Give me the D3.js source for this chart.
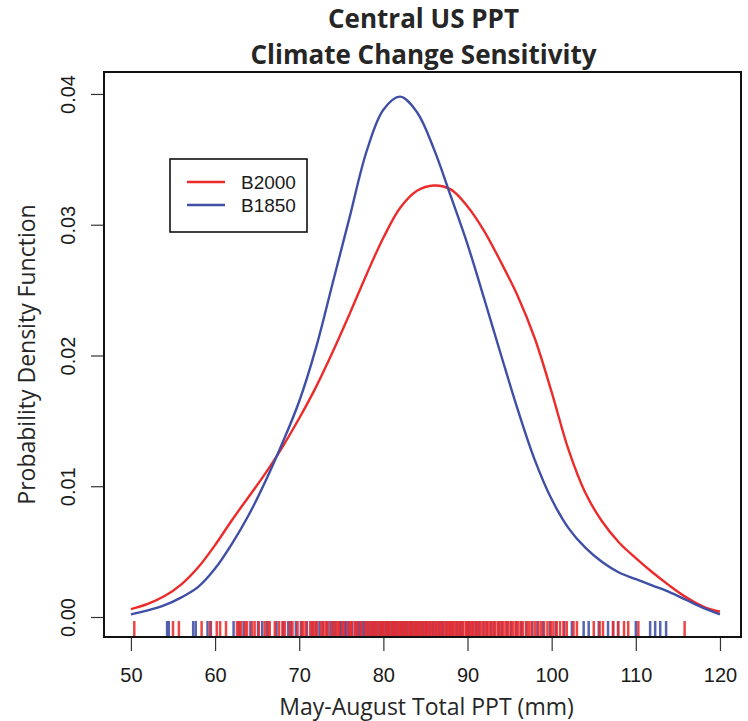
<!DOCTYPE html>
<html>
<head>
<meta charset="utf-8">
<script src="https://cdn.jsdelivr.net/npm/d3@7"></script>
<style>
  body { margin: 0; background: #fff; }
  svg { display: block; }
</style>
</head>
<body>
<div id="chart"></div>
<script>
// =========================
// DATA
// =========================
const pptGrid = [50, 52, 54, 56, 58, 60, 62, 64, 66, 68, 70, 72, 74, 76, 78, 80, 82, 84,
    86, 88, 90, 92, 94, 96, 98, 100, 102, 104, 106, 108, 110, 112, 114, 116, 118, 120];

const densB2000 = [0.0006, 0.0010, 0.0016, 0.0025, 0.0038, 0.0055, 0.0074, 0.0092, 0.0110,
    0.0130, 0.0152, 0.0176, 0.0203, 0.0232, 0.0262, 0.0290, 0.0313, 0.0326, 0.0330, 0.0327,
    0.0314, 0.0295, 0.0271, 0.0245, 0.0213, 0.0172, 0.0128, 0.0095, 0.0073, 0.0057, 0.0045,
    0.0034, 0.0024, 0.0015, 0.0008, 0.0004];

const densB1850 = [0.0002, 0.0005, 0.0009, 0.0015, 0.0023, 0.0037, 0.0056, 0.0078, 0.0104,
    0.0133, 0.0165, 0.0206, 0.0256, 0.0306, 0.0356, 0.0388, 0.0398, 0.0386, 0.0358, 0.0322,
    0.0285, 0.0243, 0.0200, 0.0158, 0.0120, 0.0090, 0.0068, 0.0053, 0.0042, 0.0034, 0.0029,
    0.0024, 0.0019, 0.0013, 0.0007, 0.0002];

const rugB2000 = [50.4, 55.0, 55.7, 58.4, 59.4, 60.2, 60.6, 61.3,
    62.6, 62.9, 63.1, 63.6, 63.8, 64.4, 64.7, 65.2, 65.9, 66.3, 66.5, 67.1, 67.6, 68.0, 68.3,
    68.9, 69.2, 69.8, 70.3, 70.5, 70.8, 71.3, 71.6, 71.8, 72.1, 72.6, 72.9, 73.2, 73.4, 73.9,
    74.2, 74.5, 74.7, 75.1, 75.3, 75.8, 76.1, 76.2, 76.6, 76.9, 77.3, 77.4, 77.9, 78.1, 78.4,
    78.6, 78.9, 79.1, 79.4, 79.7, 79.9, 80.1, 80.4, 80.6, 80.8, 81.1, 81.3, 81.5, 81.8, 82.0,
    82.2, 82.5, 82.7, 83.0, 83.2, 83.4, 83.7, 83.9, 84.1, 84.4, 84.6, 84.9, 85.1, 85.3, 85.6,
    85.8, 86.1, 86.3, 86.5, 86.8, 87.0, 87.3, 87.6, 87.8, 88.0, 88.3, 88.5, 88.8, 89.0, 89.3,
    89.5, 89.8, 90.0, 90.3, 90.5, 90.8, 91.1, 91.3, 91.6, 91.9, 92.2, 92.4, 92.7, 93.0, 93.3,
    93.6, 93.9, 94.2, 94.5, 94.8, 95.1, 95.4, 95.7, 96.0, 96.3, 96.6, 97.0, 97.3, 97.6, 98.0,
    98.4, 98.7, 99.1, 99.5, 99.9, 100.2, 100.6, 101.0, 101.4, 101.8,
    102.6, 103.0, 105.0, 105.7, 106.1, 107.3, 107.9, 108.6, 109.1, 110.3, 115.8];

const rugB1850 = [54.3, 54.5, 57.4, 57.7, 59.1, 59.5,
    62.2, 62.8, 63.4, 64.2, 65.1, 65.6, 66.2, 67.3, 68.1, 68.7, 69.0, 69.6, 70.2, 70.9, 71.5,
    72.0, 72.4, 72.8, 73.3, 73.7, 74.0, 74.3, 74.8, 75.0, 75.4, 75.6, 75.9, 76.3, 76.7, 77.0,
    77.2, 77.6, 77.8, 78.2, 78.5, 78.8, 79.0, 79.3, 79.6, 79.8, 80.0, 80.3, 80.5, 80.7, 81.0,
    81.2, 81.4, 81.6, 81.9, 82.1, 82.3, 82.6, 82.8, 83.1, 83.3, 83.5, 83.8, 84.0, 84.2, 84.5,
    84.7, 85.0, 85.2, 85.5, 85.9, 86.2, 86.6, 86.9, 87.1, 87.5, 87.9, 88.2, 88.7, 89.1, 89.4,
    89.9, 90.2, 90.6, 91.0, 91.4, 91.9, 92.3, 92.8, 93.2, 93.7, 94.1, 94.7, 95.2, 95.8, 96.4,
    97.0, 97.7, 98.3, 99.0, 99.8, 100.5, 101.5,
    102.4, 103.8, 104.4, 105.6, 106.7, 107.3, 107.9, 110.0, 111.7, 112.3, 112.9, 113.6];

const xTicks = [50, 60, 70, 80, 90, 100, 110, 120];
const yTicks = [0, 0.01, 0.02, 0.03, 0.04];

const titleLines = ["Central US PPT", "Climate Change Sensitivity"];
const seriesNames = ["B2000", "B1850"];
const seriesColors = ["#ec2b2b", "#3f4fa6"];

// =========================
// SETUP
// =========================
const W = 748, H = 721;
const box = { left: 104, right: 741, top: 72, bottom: 637 };

const svg = d3.select("#chart")
    .append("svg")
    .attr("width", W)
    .attr("height", H);

const x = d3.scaleLinear()
    .domain([46.8, 122.5])
    .range([box.left, box.right]);

const y = d3.scaleLinear()
    .domain([-0.00153, 0.04168])
    .range([box.bottom, box.top]);

const color = d3.scaleOrdinal().domain(seriesNames).range(seriesColors);

// =========================
// RUG
// =========================
const rugs = [["B1850", rugB1850], ["B2000", rugB2000]];
rugs.forEach(([name, vals]) => {
    svg.append("g")
        .selectAll("line")
        .data(vals)
        .enter()
        .append("line")
        .attr("x1", d => x(d))
        .attr("x2", d => x(d))
        .attr("y1", box.bottom - 16)
        .attr("y2", box.bottom)
        .attr("stroke", color(name))
        .attr("stroke-width", 2.5)
        .attr("stroke-opacity", 0.88);
});

// =========================
// DENSITY CURVES
// =========================
const line = d3.line()
    .x(d => x(d[0]))
    .y(d => y(d[1]))
    .curve(d3.curveCatmullRom.alpha(0.5));

const curves = [["B2000", densB2000], ["B1850", densB1850]];
curves.forEach(([name, vals]) => {
    svg.append("path")
        .datum(pptGrid.map((p, i) => [p, vals[i]]))
        .attr("fill", "none")
        .attr("stroke", color(name))
        .attr("stroke-width", 2.4)
        .attr("d", line);
});

// =========================
// AXES + BOX
// =========================
const tickFont = "'Liberation Sans', Arial, sans-serif";

const xAxis = svg.append("g")
    .attr("transform", `translate(0,${box.bottom})`)
    .call(d3.axisBottom(x).tickValues(xTicks).tickSize(14).tickPadding(0).tickFormat(d3.format("d")));
xAxis.select(".domain").remove();
xAxis.selectAll("line").attr("stroke", "#333").attr("stroke-width", 1.2);
xAxis.selectAll("text")
    .attr("y", 45)
    .attr("dy", 0)
    .style("font-family", tickFont)
    .style("font-size", "20px")
    .attr("fill", "#1a1a1a");

const yAxis = svg.append("g")
    .attr("transform", `translate(${box.left},0)`)
    .call(d3.axisLeft(y).tickValues(yTicks).tickSize(13).tickFormat(d3.format(".2f")));
yAxis.select(".domain").remove();
yAxis.selectAll("line").attr("stroke", "#333").attr("stroke-width", 1.2);
yAxis.selectAll("text")
    .attr("transform", "rotate(-90)")
    .attr("x", 0)
    .attr("y", -29)
    .attr("dy", 0)
    .attr("text-anchor", "middle")
    .style("font-family", tickFont)
    .style("font-size", "20px")
    .attr("fill", "#1a1a1a");

svg.append("rect")
    .attr("x", box.left)
    .attr("y", box.top)
    .attr("width", box.right - box.left)
    .attr("height", box.bottom - box.top)
    .attr("fill", "none")
    .attr("stroke", "#111")
    .attr("stroke-width", 2);

// =========================
// TITLE & LABELS
// =========================
const titleFont = "'Open Sans', Lato, sans-serif";
const cx = (box.left + box.right) / 2;

// two-line title
svg.append("text")
    .attr("text-anchor", "middle")
    .style("font-family", titleFont)
    .style("font-weight", "bold")
    .style("font-size", "26px")
    .attr("fill", "#262626")
    .selectAll("tspan")
    .data(titleLines)
    .enter()
    .append("tspan")
    .attr("x", cx + 1)
    .attr("y", (d, i) => 28 + i * 36)
    .text(d => d);

svg.append("text")
    .attr("x", cx + 4)
    .attr("y", 715)
    .attr("text-anchor", "middle")
    .style("font-family", titleFont)
    .style("font-size", "23px")
    .attr("fill", "#262626")
    .text("May-August Total PPT (mm)");

svg.append("text")
    .attr("transform", `translate(35,${(box.top + box.bottom) / 2}) rotate(-90)`)
    .attr("text-anchor", "middle")
    .style("font-family", titleFont)
    .style("font-size", "23px")
    .attr("fill", "#262626")
    .text("Probability Density Function");

// =========================
// LEGEND
// =========================
const legend = svg.append("g").attr("transform", "translate(170,159)");

legend.append("rect")
    .attr("width", 137)
    .attr("height", 73)
    .attr("fill", "#fff")
    .attr("stroke", "#111")
    .attr("stroke-width", 1.6);

seriesNames.forEach((name, i) => {
    const g = legend.append("g").attr("transform", `translate(0,${23 + i * 23})`);
    g.append("line")
        .attr("x1", 17)
        .attr("x2", 55)
        .attr("stroke", color(name))
        .attr("stroke-width", 2.4);
    g.append("text")
        .attr("x", 71)
        .attr("y", 7)
        .style("font-family", tickFont)
        .style("font-size", "19px")
        .attr("fill", "#1a1a1a")
        .text(name);
});
</script>
</body>
</html>
